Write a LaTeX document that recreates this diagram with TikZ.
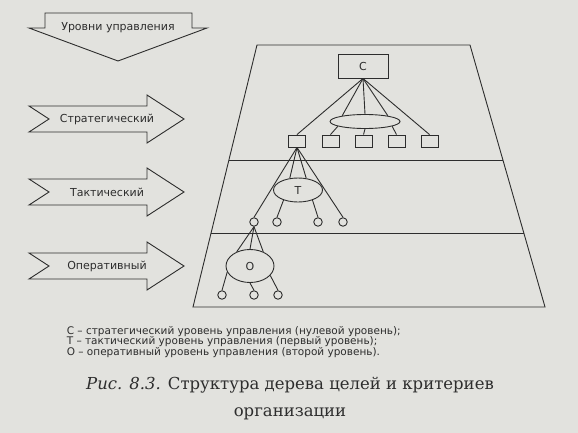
\documentclass[tikz,border=0pt]{standalone}
\usepackage{fontspec}
\setmainfont{DejaVu Serif}
\setsansfont{DejaVu Sans}
\usetikzlibrary{shapes.geometric,calc}
\definecolor{paper}{RGB}{226,226,222}
\definecolor{ink}{RGB}{45,45,45}

\begin{document}
\begin{tikzpicture}[x=1pt,y=-1pt,color=ink,line width=0.9pt,
    box/.style={draw,rectangle,inner sep=0pt,minimum width=17pt,minimum height=12pt},
    topbox/.style={draw,rectangle,inner sep=0pt,minimum width=50pt,minimum height=24pt,font=\sffamily\fontsize{11}{13}\selectfont},
    oval/.style={draw,ellipse,inner sep=0pt,font=\sffamily\fontsize{11}{13}\selectfont},
    leaf/.style={draw,circle,inner sep=0pt,minimum size=8.5pt},
    lbl/.style={font=\sffamily\fontsize{11}{13}\selectfont},
    legend/.style={anchor=base west,font=\sffamily\fontsize{10.5}{11}\selectfont},
    caption/.style={anchor=base,font=\fontsize{16.5}{19}\selectfont}]
            \useasboundingbox (0,0) rectangle (578,433);
            \fill[paper] (0,0) rectangle (578,433);

            \draw[line join=miter] (45,13) -- (192,13) -- (192,28) -- (207,28) -- (118,61) -- (29,28) -- (45,28) -- cycle;
            \node[lbl] (levels) at (118,28) {Уровни управления};

            \foreach \yy/\nm/\txt in {119/strat/Стратегический, 192/takt/Тактический, 266/oper/Оперативный} {
                \draw[line join=miter] (29,\yy-13) -- (147,\yy-13) -- (147,\yy-24) -- (184,\yy) -- (147,\yy+24) -- (147,\yy+13) -- (29,\yy+13) -- (49,\yy) -- cycle;
                \node[lbl] (\nm) at (107,\yy) {\txt};
            }

            \coordinate (tl) at (257,45);
            \coordinate (tr) at (470,45);
            \coordinate (br) at (545,307);
            \coordinate (bl) at (193,307);
            \draw (tl) -- (tr) -- (br) -- (bl) -- cycle;
            \draw ($(tl)!0.439!(bl)$) -- ($(tr)!0.439!(br)$);
            \draw ($(tl)!0.718!(bl)$) -- ($(tr)!0.718!(br)$);

            \node[topbox] (c) at (363,66) {С};
            \node[oval,minimum width=70pt,minimum height=14pt] (ec) at (365,121.5) {};
            \node[box] (b1) at (297,141) {};
            \node[box] (b2) at (330.5,141) {};
            \node[box] (b3) at (363.5,141) {};
            \node[box] (b4) at (396.5,141) {};
            \node[box] (b5) at (429.5,141) {};

            \draw (c.south) to (b1.north);
            \draw (c.south) to (ec.166);
            \draw (c.south) to (ec.north);
            \draw (c.south) to (ec.14);
            \draw (c.south) to (b5.north);
            \draw (ec.-170) to (b2.north);
            \draw (ec.south) to (b3.north);
            \draw (ec.-10) to (b4.north);

            \node[oval,minimum width=49pt,minimum height=24pt] (t) at (298,190) {Т};
            \node[leaf] (t1) at (254,222) {};
            \node[leaf] (t2) at (277,222) {};
            \node[leaf] (t3) at (318,222) {};
            \node[leaf] (t4) at (343,222) {};

            \draw (b1.south) to (t1.north);
            \draw (b1.south) to (t.125);
            \draw (b1.south) to (t.55);
            \draw (b1.south) to (t4.north);
            \draw (t.-145) to (t2.north);
            \draw (t.-35) to (t3.north);

            \node[oval,minimum width=48pt,minimum height=33pt] (o) at (250,266) {О};
            \node[leaf] (o1) at (222,295) {};
            \node[leaf] (o2) at (254,295) {};
            \node[leaf] (o3) at (278,295) {};

            \draw (t1.south) to (o.133);
            \draw (t1.south) to (o.north);
            \draw (t1.south) to (o.47);
            \draw (o.-165) to (o1.north);
            \draw (o.south) to (o2.north);
            \draw (o.-25) to (o3.north);

            \node[legend] (leg1) at (63,334) {С – стратегический уровень управления (нулевой уровень);};
            \node[legend] (leg2) at (63,344.5) {Т – тактический уровень управления (первый уровень);};
            \node[legend] (leg3) at (63,355) {О – оперативный уровень управления (второй уровень).};

            \node[caption] (cap1) at (290,389) {\textit{Рис. 8.3.} Структура дерева целей и критериев};
            \node[caption] (cap2) at (290,416) {организации};
        \end{tikzpicture}
\end{document}
